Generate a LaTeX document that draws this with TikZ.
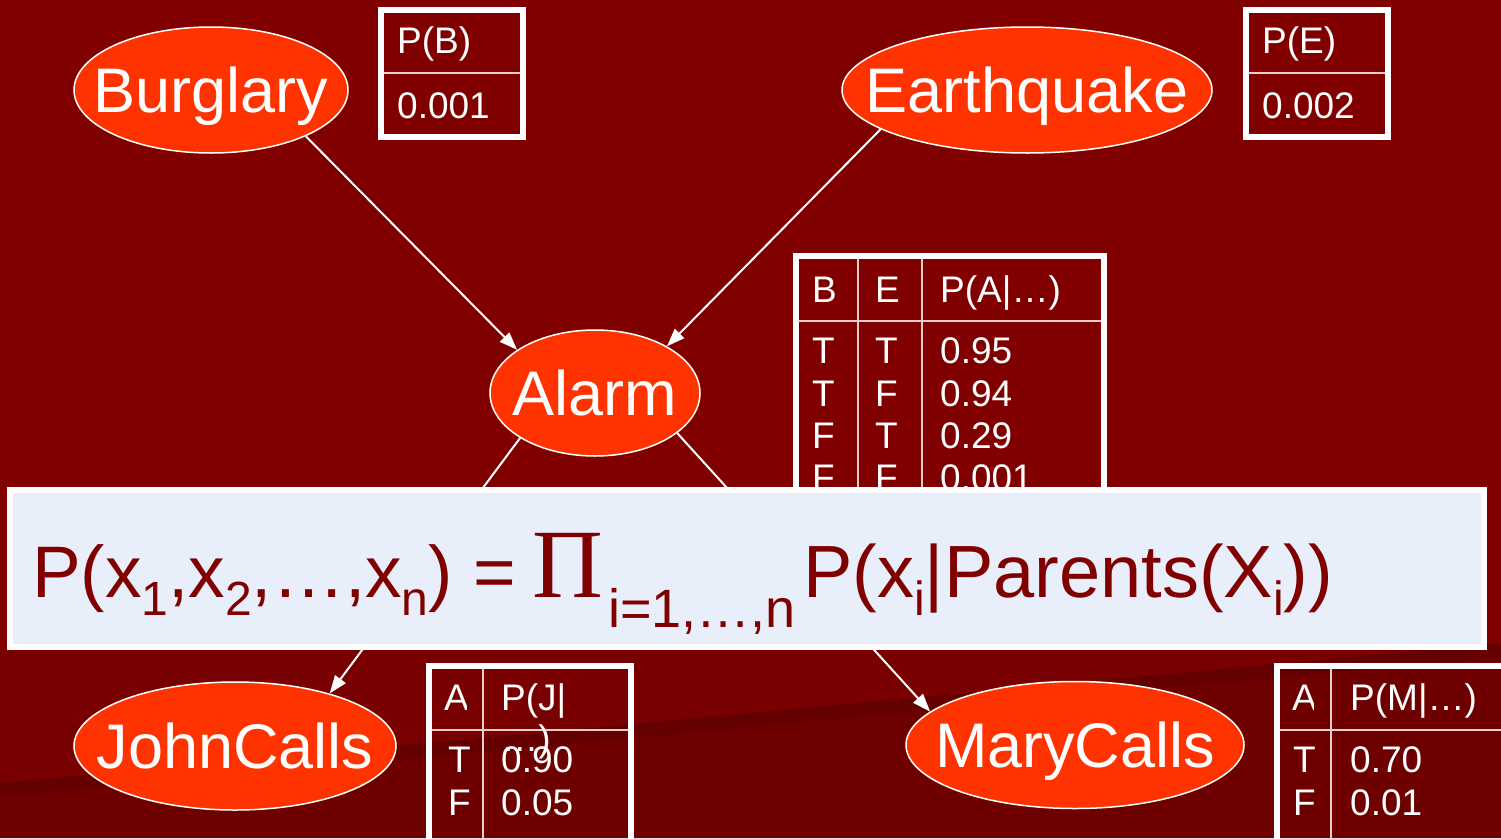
\documentclass[tikz,border=0pt]{standalone}
\usepackage{fontspec}
\setmainfont{Liberation Sans}
\newfontfamily\pifont{Liberation Serif}
\usetikzlibrary{shapes.geometric,arrows.meta}
\definecolor{bgred}{RGB}{128,0,0}
\definecolor{bglow}{RGB}{121,0,0}
\definecolor{bgband}{RGB}{100,0,0}
\definecolor{bgdeep}{RGB}{111,0,0}
\definecolor{nodefill}{RGB}{255,51,0}
\definecolor{formbg}{RGB}{232,239,250}
\definecolor{formtext}{RGB}{128,0,0}
\definecolor{tabline}{RGB}{235,205,205}
\newcommand\lowsub[1]{\raisebox{-18pt}{\fontsize{48}{48}\selectfont #1}}
\tikzset{
  bnode/.style={ellipse, draw=white, line width=1.5pt, fill=nodefill, text=white,
    font=\fontsize{63}{63}\selectfont, inner sep=0pt, text height=45pt, text depth=0pt},
  arr/.style={draw=white, line width=2pt, -{Triangle[length=18pt,width=13pt]}},
  tabout/.style={draw=white, line width=6pt},
  tabin/.style={draw=tabline, line width=2pt},
  ttext/.style={text=white, font=\fontsize{37}{37}\selectfont, inner sep=0pt, anchor=base west},
  ftext/.style={text=formtext, inner sep=0pt, anchor=base west},
  formbox/.style={draw=white, line width=6pt, fill=formbg, inner sep=0pt}
}
\begin{document}
\begin{tikzpicture}[x=1pt,y=-1pt]
\useasboundingbox (0,0) rectangle (1501,838);
% background
\fill[bgred] (0,0) rectangle (1501,838);
\fill[bglow] (0,650) rectangle (1501,838);
\fill[bgdeep] (0,790) -- (1501,650) -- (1501,838) -- (0,838) -- cycle;
\draw[bgband, line width=14pt] (0,790) -- (1501,650);

% nodes
\node[bnode, minimum width=274pt, minimum height=126pt] (burglary) at (211,90) {\makebox[0pt]{Burglary}};
\node[bnode, minimum width=370pt, minimum height=126pt] (earthquake) at (1027,90) {\makebox[0pt]{Earthquake}};
\node[bnode, minimum width=210pt, minimum height=126pt] (alarm) at (595,393) {\makebox[0pt]{Alarm}};
\node[bnode, minimum width=322pt, minimum height=128pt] (john) at (235,746) {\makebox[0pt]{JohnCalls}};
\node[bnode, minimum width=338pt, minimum height=127pt] (mary) at (1075,745) {\makebox[0pt]{MaryCalls}};

% edges
\draw[arr] (burglary.-26) -- (alarm.151);
\draw[arr] (earthquake.195.5) -- (alarm.33);
\draw[arr] (alarm.211) -- (john.29);
\draw[arr] (alarm.-26) -- (mary.167);

% table P(B)
\draw[tabout] (381,10) rectangle (523,137);
\draw[tabin] (384,73) -- (520,73);
\node[ttext] (pb) at (397,53) {P(B)};
\node[ttext] (pbv) at (397,118) {0.001};

% table P(E)
\draw[tabout] (1246,10) rectangle (1388,137);
\draw[tabin] (1249,73) -- (1385,73);
\node[ttext] (pe) at (1262,53) {P(E)};
\node[ttext] (pev) at (1262,118) {0.002};

% table P(A|...)
\draw[tabout] (795.5,256) rectangle (1104,540);
\draw[tabin] (798,321) -- (1101,321);
\draw[tabin] (858,259) -- (858,540);
\draw[tabin] (922,259) -- (922,540);
\node[ttext] (ahb) at (812,302) {B};
\node[ttext] (ahe) at (875,302) {E};
\node[ttext] (ahp) at (940,302) {P(A|…)};
\node[ttext] (ab1) at (812,363) {T};
\node[ttext] (ae1) at (875,363) {T};
\node[ttext] (ap1) at (940,363) {0.95};
\node[ttext] (ab2) at (812,406) {T};
\node[ttext] (ae2) at (875,406) {F};
\node[ttext] (ap2) at (940,406) {0.94};
\node[ttext] (ab3) at (812,448) {F};
\node[ttext] (ae3) at (875,448) {T};
\node[ttext] (ap3) at (940,448) {0.29};
\node[ttext] (ab4) at (812,490) {F};
\node[ttext] (ae4) at (875,490) {F};
\node[ttext] (ap4) at (940,490) {0.001};

% table P(J|...)
\draw[tabout] (429,666) rectangle (631,850);
\draw[tabin] (432,730) -- (628,730);
\draw[tabin] (483,669) -- (483,850);
\begin{scope}
\clip (432,669) rectangle (466,728);
\node[ttext] (jha) at (444,710) {A};
\end{scope}
\node[ttext] (jhp) at (501,710) {P(J|};
\node[ttext, anchor=base east] (jhp2) at (551,751) {…)};
\node[ttext] (ja1) at (448,772) {T};
\node[ttext] (jp1) at (501,772) {0.90};
\node[ttext] (ja2) at (448,815) {F};
\node[ttext] (jp2) at (501,815) {0.05};

% table P(M|...)
\draw[tabout] (1277,666) rectangle (1510,850);
\draw[tabin] (1280,730) -- (1510,730);
\draw[tabin] (1331,669) -- (1331,850);
\begin{scope}
\clip (1280,669) rectangle (1313,728);
\node[ttext] (mha) at (1292,710) {A};
\end{scope}
\node[ttext] (mhp) at (1350,710) {P(M|…)};
\node[ttext] (ma1) at (1293,772) {T};
\node[ttext] (mp1) at (1350,772) {0.70};
\node[ttext] (ma2) at (1293,815) {F};
\node[ttext] (mp2) at (1350,815) {0.01};

% formula box
\node[formbox, minimum width=1474pt, minimum height=157pt] (formula) at (747,568.5) {};
\node[ftext, font=\fontsize{73}{73}\selectfont] (f1) at (32,597) {P(x\lowsub{1},x\lowsub{2},…,x\lowsub{n}) =};
\node[ftext, font=\pifont\fontsize{98}{98}\selectfont] (pi) at (532,597) {Π};
\node[ftext, font=\fontsize{54}{54}\selectfont] (range) at (608,627) {i=1,…,n};
\node[ftext, font=\fontsize{74}{74}\selectfont] (f3) at (803,597) {P(x\lowsub{i}|Parents(X\lowsub{i}))};
\end{tikzpicture}
\end{document}
